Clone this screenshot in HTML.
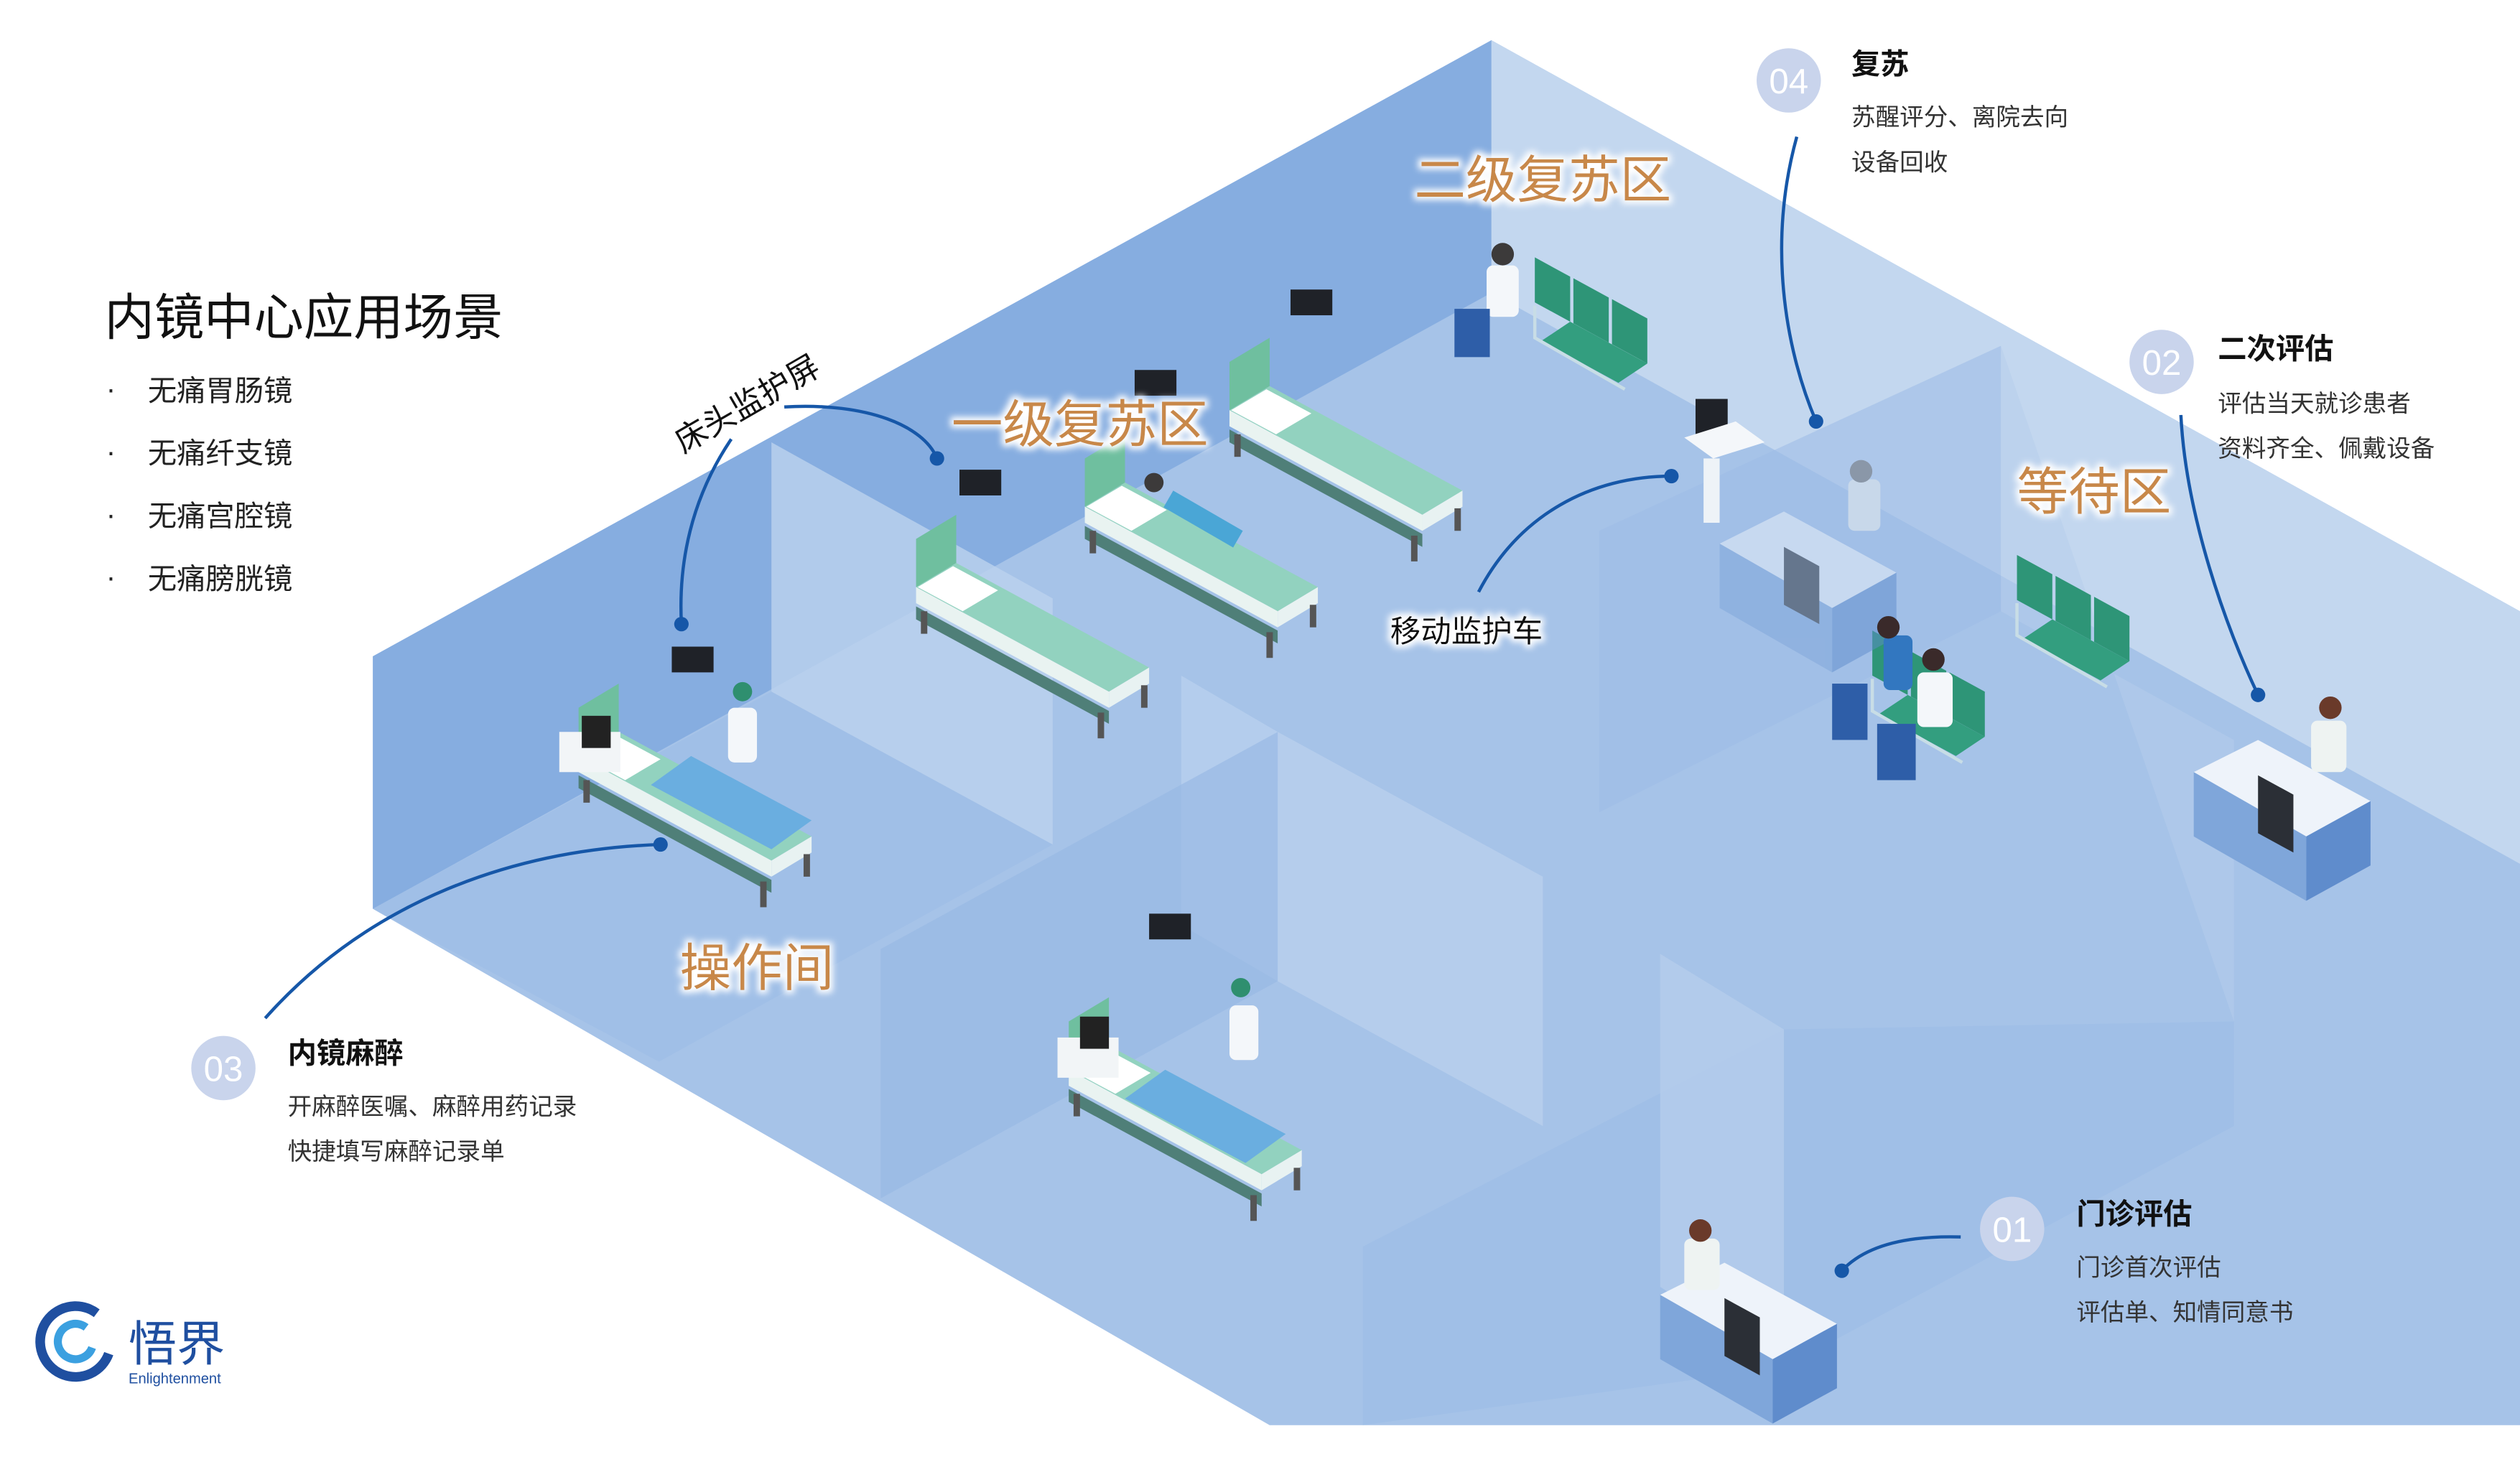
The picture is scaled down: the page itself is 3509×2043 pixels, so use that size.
<!DOCTYPE html>
<html><head><meta charset="utf-8"><style>
html,body{margin:0;padding:0;background:#fff;}
svg{display:block;}
text{font-family:"Liberation Sans","Noto Sans CJK SC",sans-serif;}
</style></head><body>
<svg width="3509" height="2043" viewBox="0 0 1568 912" preserveAspectRatio="none" xmlns="http://www.w3.org/2000/svg">
<defs>
<filter id="glow" x="-20%" y="-40%" width="140%" height="180%">
<feMorphology in="SourceAlpha" operator="dilate" radius="2" result="d"/>
<feGaussianBlur in="d" stdDeviation="2" result="b"/>
<feFlood flood-color="#ffffff"/><feComposite in2="b" operator="in" result="w"/>
<feMerge><feMergeNode in="w"/><feMergeNode in="SourceGraphic"/></feMerge>
</filter>
<g id="bed">
<polygon points="-25,27 95,92 95,100 -25,35" fill="#4f7f78"/>
<polygon points="0,0 120,65 95,80 -25,15" fill="#92d2bf"/>
<polygon points="95,80 120,65 120,75 95,90" fill="#e8f2f2"/>
<polygon points="-25,15 95,80 95,90 -25,25" fill="#e9f3f1"/>
<polygon points="-2,2 26,17 4,30 -24,15" fill="#ffffff"/>
<polygon points="-25,15 -25,-15 0,-30 0,0" fill="#6fbf9f"/>
<rect x="-22" y="30" width="4" height="14" fill="#555"/>
<rect x="88" y="93" width="4" height="16" fill="#555"/>
<rect x="115" y="76" width="4" height="14" fill="#555"/>
</g>
<g id="chairs">
<polygon points="0,0 22,12 22,40 0,28" fill="#2e9577"/>
<polygon points="24,13 46,25 46,53 24,41" fill="#2e9577"/>
<polygon points="48,26 70,38 70,66 48,54" fill="#2e9577"/>
<polygon points="22,40 70,66 52,78 4,52" fill="#339e7f"/>
<polyline points="0,30 0,50 56,82" fill="none" stroke="#c8dde6" stroke-width="2"/>
</g>
<g id="desk">
<polygon points="0,20 40,0 110,38 70,60" fill="#eef3fa"/>
<polygon points="0,20 70,60 70,100 0,60" fill="#7fa6da"/>
<polygon points="70,60 110,38 110,78 70,100" fill="#5f8ccc"/>
<polygon points="40,22 62,34 62,70 40,58" fill="#2b2f36"/>
</g>
</defs>

<!-- building -->
<polygon points="232,408 928,25 1568,380 1568,886 790,886 232,565" fill="#a6c3e8"/>
<polygon points="232,408 928,25 928,182 232,565" fill="#86ade0"/>
<polygon points="928,25 1568,380 1568,537 928,182" fill="#c3d7ef"/>
<!-- partitions -->
<polygon points="480,275 655,372 655,525 480,430" fill="#bcd2ee" opacity="0.8"/>
<polygon points="232,565 480,430 655,525 410,660" fill="#9dbde6" opacity="0.6"/>
<polygon points="735,420 795,455 795,610 735,575" fill="#b8cfed" opacity="0.8"/>
<polygon points="795,455 960,545 960,700 795,610" fill="#bcd2ee" opacity="0.7"/>
<polygon points="548,590 795,455 795,610 548,745" fill="#98b9e4" opacity="0.7"/>
<polygon points="995,330 1245,215 1245,380 995,505" fill="#9ebde6" opacity="0.6"/>
<polygon points="1245,215 1245,380 1390,460 1390,635" fill="#b5cdec" opacity="0.5"/>
<polygon points="848,775 1110,640 1390,635 1390,700 1110,850 848,886" fill="#9bbbe5" opacity="0.55"/>
<polygon points="1033,593 1110,640 1110,850 1033,800" fill="#b8cfed" opacity="0.7"/>

<!-- furniture -->
<use href="#bed" x="385" y="455"/>
<use href="#bed" x="595" y="350"/>
<use href="#bed" x="700" y="300"/>
<use href="#bed" x="790" y="240"/>
<use href="#bed" x="690" y="650"/>
<polygon points="430,470 505,510 480,528 405,488" fill="#6aaee0"/>
<polygon points="725,665 800,705 775,723 700,683" fill="#6aaee0"/>
<rect x="348" y="455" width="38" height="25" fill="#f2f5f7"/>
<rect x="362" y="445" width="18" height="20" fill="#222"/>
<rect x="658" y="645" width="38" height="25" fill="#f2f5f7"/>
<rect x="672" y="632" width="18" height="20" fill="#222"/>
<rect x="418" y="402" width="26" height="16" fill="#1f2228"/>
<rect x="597" y="292" width="26" height="16" fill="#1f2228"/>
<rect x="706" y="230" width="26" height="16" fill="#1f2228"/>
<rect x="803" y="180" width="26" height="16" fill="#1f2228"/>
<rect x="715" y="568" width="26" height="16" fill="#1f2228"/>
<rect x="1055" y="248" width="20" height="22" fill="#1f2228"/>
<polygon points="1048,272 1080,262 1098,275 1066,285" fill="#f4f7fa"/>
<rect x="1060" y="285" width="10" height="40" fill="#eef3f7"/>
<use href="#chairs" x="955" y="160"/>
<use href="#chairs" x="1255" y="345"/>
<use href="#chairs" x="1165" y="392"/>
<use href="#desk" x="1365" y="460"/>
<use href="#desk" x="1033" y="785"/>
<use href="#desk" x="1070" y="318" opacity="0.5"/>
<!-- people rough -->
<rect x="925" y="165" width="20" height="32" rx="4" fill="#f4f7fa"/><circle cx="935" cy="158" r="7" fill="#3c3a3a"/><rect x="905" y="192" width="22" height="30" fill="#2e5ea8"/>
<rect x="1172" y="395" width="18" height="34" rx="4" fill="#3277c0"/><circle cx="1175" cy="390" r="7" fill="#3a2a2a"/><rect x="1140" y="425" width="22" height="35" fill="#2e5ea8"/>
<rect x="1193" y="418" width="22" height="34" rx="4" fill="#f4f7fa"/><circle cx="1203" cy="410" r="7" fill="#3a2a2a"/><rect x="1168" y="450" width="24" height="35" fill="#2e5ea8"/>
<rect x="1438" y="448" width="22" height="32" rx="4" fill="#eef3f2"/><circle cx="1450" cy="440" r="7" fill="#6a3a2a"/>
<rect x="1048" y="770" width="22" height="32" rx="4" fill="#eef3f2"/><circle cx="1058" cy="765" r="7" fill="#6a3a2a"/>
<rect x="1150" y="298" width="20" height="32" rx="4" fill="#c8d8ea"/><circle cx="1158" cy="293" r="7" fill="#8a97a8"/>
<rect x="453" y="440" width="18" height="34" rx="4" fill="#f4f7fa"/><circle cx="462" cy="430" r="6" fill="#2f8f6f"/>
<rect x="765" y="625" width="18" height="34" rx="4" fill="#f4f7fa"/><circle cx="772" cy="614" r="6" fill="#2f8f6f"/>
<rect x="730" y="305" width="50" height="12" fill="#4aa6d6" transform="rotate(30 730 305)"/><circle cx="718" cy="300" r="6" fill="#3c3a3a"/>

<!-- connectors -->
<g fill="none" stroke="#1657a8" stroke-width="2">
<path d="M1118,85 C1100,150 1110,215 1130,262"/>
<path d="M1357,258 C1360,320 1385,390 1405,432"/>
<path d="M455,273 C430,310 422,350 424,388"/>
<path d="M488,253 C540,250 575,265 583,285"/>
<path d="M920,368 C945,320 990,296 1040,296"/>
<path d="M165,633 C230,560 320,528 411,525"/>
<path d="M1220,769 C1185,768 1160,775 1146,790"/>
</g>
<g fill="#1657a8">
<circle cx="1130" cy="262" r="4.5"/><circle cx="1405" cy="432" r="4.5"/><circle cx="424" cy="388" r="4.5"/>
<circle cx="583" cy="285" r="4.5"/><circle cx="1040" cy="296" r="4.5"/><circle cx="411" cy="525" r="4.5"/><circle cx="1146" cy="790" r="4.5"/>
</g>

<!-- area labels -->
<g fill="#c8884a" font-size="32" filter="url(#glow)">
<text x="880" y="123">二级复苏区</text>
<text x="592" y="275">一级复苏区</text>
<text x="1255" y="317">等待区</text>
<text x="423" y="613">操作间</text>
</g>
<text x="0" y="0" font-size="20" fill="#111" transform="translate(425,282) rotate(-30)">床头监护屏</text>
<text x="865" y="399" font-size="19" fill="#111" filter="url(#glow)">移动监护车</text>

<!-- title -->
<text x="65" y="208" font-size="31" fill="#111">内镜中心应用场景</text>
<g font-size="18" fill="#222">
<text x="66" y="248">·</text><text x="92" y="249">无痛胃肠镜</text>
<text x="66" y="287">·</text><text x="92" y="288">无痛纤支镜</text>
<text x="66" y="326">·</text><text x="92" y="327">无痛宫腔镜</text>
<text x="66" y="365">·</text><text x="92" y="366">无痛膀胱镜</text>
</g>

<!-- numbered -->
<g fill="#c9d4ec">
<circle cx="1113" cy="50" r="20"/><circle cx="1345" cy="225" r="20"/><circle cx="139" cy="664" r="20"/><circle cx="1252" cy="764" r="20"/>
</g>
<g fill="#fff" font-size="22" text-anchor="middle">
<text x="1113" y="58">04</text><text x="1345" y="233">02</text><text x="139" y="672">03</text><text x="1252" y="772">01</text>
</g>
<g font-weight="bold" font-size="18" fill="#111">
<text x="1152" y="46">复苏</text><text x="1380" y="223">二次评估</text><text x="179" y="661">内镜麻醉</text><text x="1292" y="761">门诊评估</text>
</g>
<g font-size="15" fill="#333">
<text x="1152" y="78">苏醒评分、离院去向</text><text x="1152" y="106">设备回收</text>
<text x="1380" y="256">评估当天就诊患者</text><text x="1380" y="284">资料齐全、佩戴设备</text>
<text x="179" y="693">开麻醉医嘱、麻醉用药记录</text><text x="179" y="721">快捷填写麻醉记录单</text>
<text x="1292" y="793">门诊首次评估</text><text x="1292" y="821">评估单、知情同意书</text>
</g>

<!-- logo -->
<circle cx="47" cy="834" r="22" fill="none" stroke="#1f4fa0" stroke-width="6" stroke-dasharray="110 30" transform="rotate(20 47 834)"/>
<circle cx="47" cy="834" r="11" fill="none" stroke="#3ba0e0" stroke-width="5" stroke-dasharray="55 15" transform="rotate(20 47 834)"/>
<text x="80" y="846" font-size="30" fill="#1f4fa0">悟界</text>
<text x="80" y="860" font-size="9" fill="#1f4fa0">Enlightenment</text>
</svg>
</body></html>
